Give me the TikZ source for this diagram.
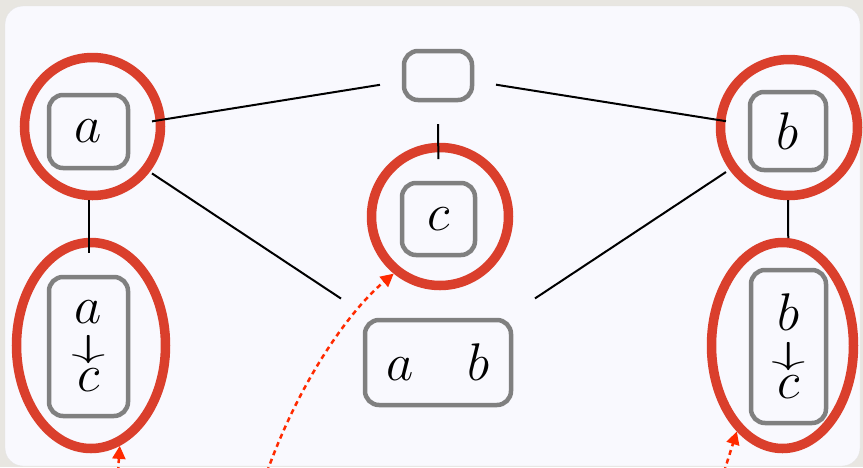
\RequirePackage{fix-cm}
\documentclass[tikz,border=0pt]{standalone}
\usepackage{graphicx}
\usepackage{xcolor}
\usetikzlibrary{arrows.meta,positioning,shapes.geometric}
\definecolor{ringred}{HTML}{DA3F2C}
\definecolor{hintred}{HTML}{FF2A00}
\definecolor{panelbg}{HTML}{F9F9FE}
\definecolor{deskgray}{HTML}{E8E6E1}

\begin{document}
\begin{tikzpicture}[x=1pt, y=-1pt,
  box/.style={draw=black!50, line width=4.5pt, rounded corners=14pt, align=center,
              inner sep=0pt, outer sep=24pt, font=\fontsize{53}{34}\selectfont},
  ring/.style={ellipse, draw=ringred, line width=9.5pt, inner sep=0pt},
  edge/.style={black, line width=2pt},
  hint/.style={-{Triangle[length=13pt,width=13pt]}, hintred, line width=2.5pt,
               dash pattern=on 5pt off 4pt}]
\useasboundingbox (0,0) rectangle (863,467);
\fill[deskgray] (0,0) rectangle (863,467);
\draw[black!10, fill=panelbg, rounded corners=18pt] (5,6) rectangle (860,466);
\node[box, minimum width=68pt, minimum height=49pt] (top) at (438,75.5) {};
\node[box, minimum width=79pt, minimum height=73pt] (na) at (88.5,131.5) {$a$};
\node[box, minimum width=76pt, minimum height=78pt] (nb) at (788,131) {$b$};
\node[box, minimum width=73pt, minimum height=72pt] (nc) at (438.5,219) {$c$};
\node[box, minimum width=79pt, minimum height=139pt] (nac) at (88.5,346.5)
  {$a$\\\scalebox{1.3}[0.6]{$\downarrow$}\\$c$};
\node[box, minimum width=75pt, minimum height=153pt] (nbc) at (788.5,346.5)
  {$b$\\\scalebox{1.3}[0.6]{$\downarrow$}\\$c$};
\node[box, minimum width=146pt, minimum height=85pt] (nab) at (438,362.5) {$a\quad b$};
\node[ring, minimum width=136pt, minimum height=138pt] (ringa) at (92.5,126.5) {};
\node[ring, minimum width=137pt, minimum height=136pt] (ringb) at (789,127.5) {};
\node[ring, minimum width=137pt, minimum height=138pt] (ringc) at (440,216.5) {};
\node[ring, minimum width=149pt, minimum height=206pt] (ringac) at (91,345.5) {};
\node[ring, minimum width=142pt, minimum height=206pt] (ringbc) at (782.5,345.5) {};
\draw[edge] (top) -- (na);
\draw[edge] (top) -- (nb);
\draw[edge] (top) -- (nc);
\draw[edge, shorten <=8pt] (na) -- (nac);
\draw[edge, shorten <=6pt, shorten >=8pt] (nb) -- (nbc);
\draw[edge] (na) -- (nab);
\draw[edge] (nb) -- (nab);
\coordinate (fromac) at (118,472);
\coordinate (fromc) at (267,472);
\coordinate (frombc) at (724,472);
\draw[hint] (fromac) -- (ringac.-74);
\draw[hint] (fromc) .. controls (300,380) and (350,310) .. (ringc.-129);
\draw[hint] (frombc) -- (ringbc.-118);
\end{tikzpicture}
\end{document}
